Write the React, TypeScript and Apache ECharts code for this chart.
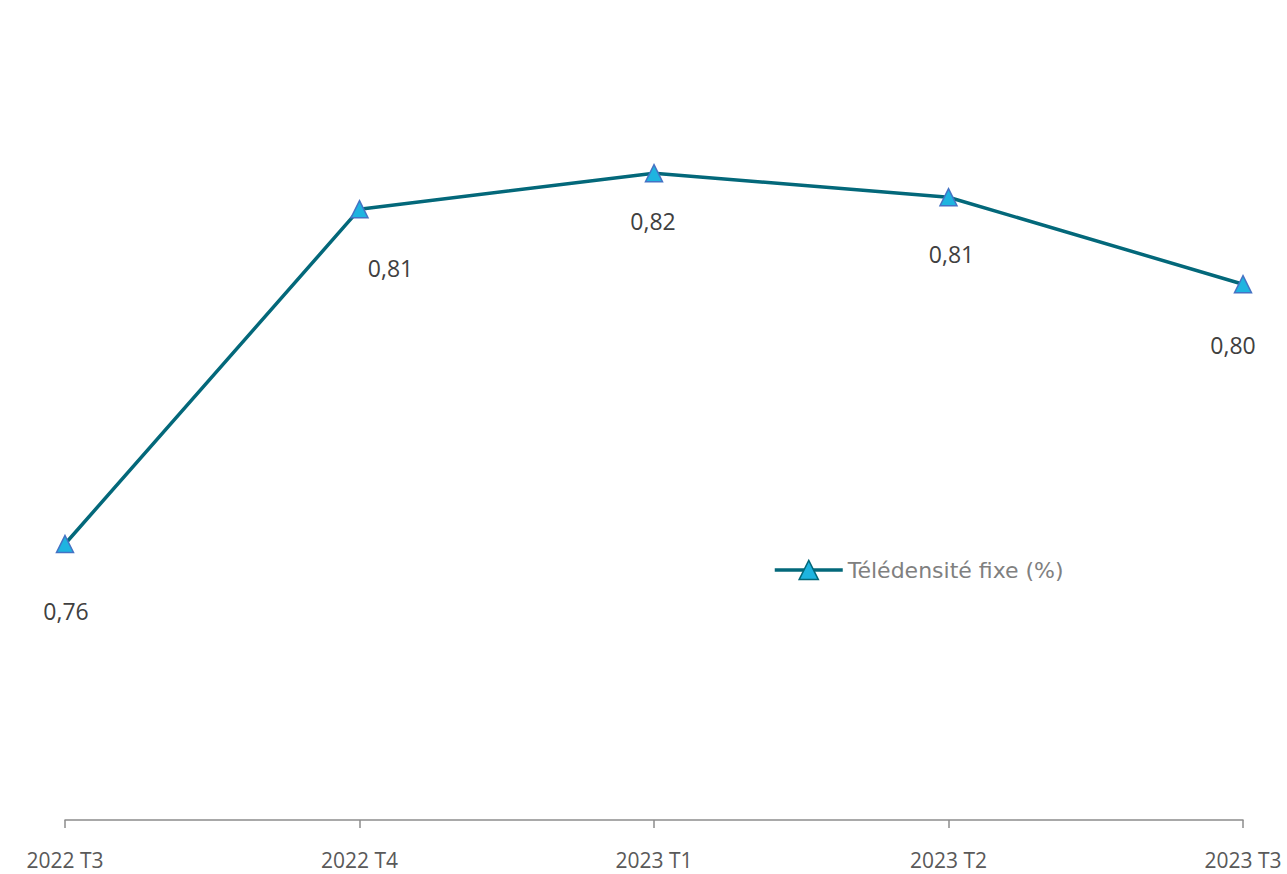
import React, { useEffect, useRef } from "react";
import * as echarts from "echarts";

const categories = ["2022 T3", "2022 T4", "2023 T1", "2023 T2", "2023 T3"];
const teledensite = [0.756, 0.8118, 0.8178, 0.8138, 0.7993];
const seriesName = "Télédensité fixe (%)";

// label offsets (styling only)
const labelOffsets: [number, number][] = [
  [1, 2],
  [31, -6],
  [-1, -17],
  [3, -8],
  [-10, -4],
];

export default function App() {
  const ref = useRef<HTMLDivElement>(null);
  useEffect(() => {
    if (!ref.current) return;
    const chart = echarts.init(ref.current, undefined, { renderer: "svg" });
    chart.setOption({
      animation: false,
      backgroundColor: "#ffffff",
      grid: { left: 65, right: 44, top: 100, bottom: 54, containLabel: false },
      legend: {
        left: 768,
        top: 554,
        itemWidth: 68,
        itemHeight: 24,
        itemGap: 10,
        data: [seriesName],
        itemStyle: { color: "#1EB4E0", borderColor: "#03687A", borderWidth: 1.5 },
        lineStyle: { width: 3.5, color: "#03687A" },
        textStyle: { color: "#808080", fontSize: 22, fontFamily: "DejaVu Sans" },
      },
      xAxis: {
        type: "category",
        data: categories,
        boundaryGap: false,
        axisLine: { lineStyle: { color: "#8c8c8c", width: 1.5 } },
        axisTick: { show: true, length: 8, lineStyle: { color: "#8c8c8c", width: 1.5 } },
        axisLabel: {
          color: "#595959",
          fontSize: 21,
          lineHeight: 22,
          fontFamily: "Open Sans",
          margin: 29,
        },
      },
      yAxis: {
        type: "value",
        min: 0.71,
        max: 0.83,
        show: false,
        splitLine: { show: false },
      },
      series: [
        {
          name: seriesName,
          type: "line",
          data: teledensite.map((v, i) => ({
            value: v,
            label: { offset: labelOffsets[i] },
          })),
          symbol: "triangle",
          symbolSize: 17,
          lineStyle: { color: "#03687A", width: 3.5 },
          itemStyle: { color: "#1EB4E0", borderColor: "#4472C4", borderWidth: 1.5 },
          label: {
            show: true,
            position: "bottom",
            distance: 44,
            color: "#404040",
            fontSize: 23,
            fontFamily: "Open Sans",
            formatter: (p: any) => p.value.toFixed(2).replace(".", ","),
          },
        },
      ],
    });
    return () => chart.dispose();
  }, []);
  return (
    <div
      ref={ref}
      style={{ position: "fixed", left: 0, top: 0, width: 1287, height: 874 }}
    />
  );
}
